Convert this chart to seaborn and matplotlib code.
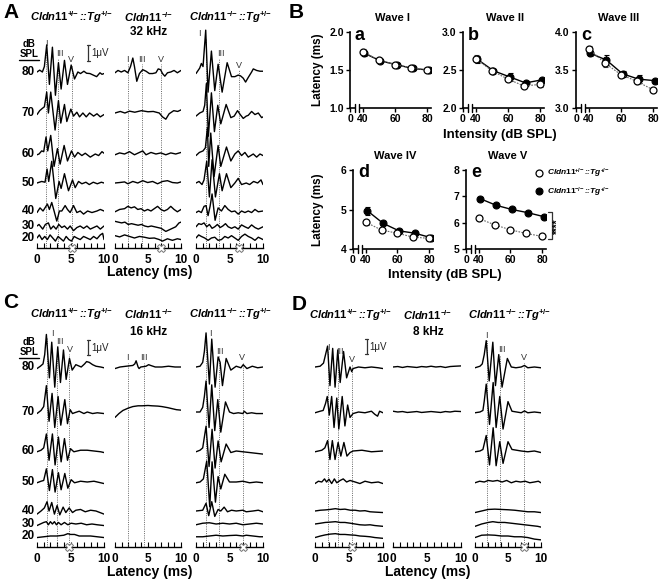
import numpy as np
import pandas as pd
import matplotlib
matplotlib.use("Agg")
import matplotlib.pyplot as plt
import seaborn as sns
from matplotlib.lines import Line2D
from matplotlib.ticker import MultipleLocator

# ---------------- data ----------------
LEVELS = [80, 70, 60, 50, 40, 30, 20]
GENO_HET = r"$\mathit{Cldn11}^{+\!/\!-}$::$\mathit{Tg}^{+\!/\!-}$"
GENO_KO = r"$\mathit{Cldn11}^{-\!/\!-}$"
GENO_RES = r"$\mathit{Cldn11}^{-\!/\!-}$::$\mathit{Tg}^{+\!/\!-}$"
FREQS = ["32 kHz", "16 kHz", "8 kHz"]

# ABR traces (time ms, amplitude uV), 32 kHz
A_HET = {
    80: [(0,0),(0.4,0.12),(0.8,0.0),(1.1,0.35),(1.45,1.75),(1.85,-0.8),(2.3,1.6),(2.75,-1.5),(3.2,0.6),(3.6,-1.1),(4.1,0.75),(4.55,-0.8),(5.1,0.45),(5.6,-0.45),(6.1,0.0),(6.5,-0.1),(7.0,0.05),(7.4,-0.08),(7.9,-0.1),(8.4,-0.2),(8.9,-0.3),(9.4,-0.05),(9.7,-0.15),(10,-0.1)],
    70: [(0,-0.1),(0.4,0.15),(0.8,0.3),(1.1,0.4),(1.45,1.35),(1.7,0.0),(2.05,1.35),(2.7,-1.1),(3.2,0.8),(3.55,-0.65),(4.1,0.55),(4.45,-0.55),(5.05,0.25),(5.45,-0.2),(5.95,0.05),(6.35,-0.25),(6.85,0.0),(7.35,-0.25),(7.85,0.0),(8.45,-0.2),(8.95,-0.05),(9.45,-0.25),(10,-0.1)],
    60: [(0,-0.05),(0.3,0.0),(0.7,0.2),(1.0,0.15),(1.35,1.1),(1.6,0.2),(2.05,1.2),(2.55,-0.8),(3.05,0.35),(3.45,-0.65),(4.05,0.55),(4.55,-0.45),(5.15,0.2),(5.6,-0.2),(6.1,0.1),(6.7,-0.1),(7.2,0.05),(7.95,-0.2),(8.7,0.0),(9.2,-0.1),(9.7,0.15),(10,0.05)],
    50: [(0,0),(0.7,0.1),(1.2,0.05),(1.5,0.9),(1.75,0.1),(2.2,1.4),(2.8,-1.0),(3.3,0.1),(3.6,-0.35),(4.1,0.6),(4.7,-0.5),(5.3,0.2),(5.7,-0.3),(6.2,0.1),(6.7,-0.05),(7.3,0.05),(7.8,-0.1),(8.4,0.05),(9.0,-0.05),(9.6,0.05),(10,0.0)],
    40: [(0,-0.1),(0.45,0.2),(0.9,0.0),(1.55,0.45),(1.85,0.1),(2.2,0.55),(2.55,0.0),(2.95,-0.65),(3.35,0.0),(3.7,0.0),(4.2,0.35),(4.55,0.1),(4.95,-0.1),(5.45,0.35),(5.95,-0.1),(6.45,0.0),(6.95,-0.2),(7.55,0.0),(8.2,-0.1),(8.95,0.0),(9.45,0.1),(10,0.0)],
    30: [(0,0),(0.3,0.1),(0.85,-0.2),(1.25,0.1),(1.7,0.2),(2.05,-0.2),(2.45,0.0),(2.85,-0.2),(3.25,0.1),(3.7,-0.1),(4.1,0.0),(4.55,-0.2),(4.95,0.0),(5.45,-0.3),(5.95,-0.1),(6.45,0.0),(6.95,-0.15),(7.45,0.0),(7.95,-0.2),(8.45,-0.1),(8.95,0.0),(9.45,-0.2),(10,0.0)],
    20: [(0,0),(0.35,0.2),(0.75,-0.1),(1.15,0.1),(1.55,-0.1),(1.95,0.2),(2.35,0.0),(2.75,-0.2),(3.15,0.1),(3.55,-0.05),(3.95,-0.2),(4.35,0.1),(4.75,-0.1),(5.15,-0.2),(5.55,0.1),(5.95,0.0),(6.45,-0.1),(6.95,0.1),(7.45,0.0),(7.95,-0.1),(8.45,0.1),(8.95,-0.05),(9.45,0.2),(9.8,0.3),(10,-0.1)],
}
A_KO = {
    80: [(0,-0.05),(0.45,0.1),(0.95,0.0),(1.45,0.1),(1.95,-0.05),(2.35,0.35),(2.7,0.9),(2.95,0.35),(3.3,-0.6),(3.7,-0.1),(4.2,0.15),(4.7,0.05),(5.2,-0.1),(5.7,-0.1),(6.2,-0.05),(6.55,0.2),(6.9,0.15),(7.2,-0.1),(7.55,-0.27),(7.95,-0.05),(8.45,0.0),(8.95,0.1),(9.45,-0.05),(10,0.1)],
    70: [(0,0),(0.8,0.1),(1.5,0.0),(2.2,0.12),(3.0,0.05),(4.0,0.15),(5.0,0.08),(5.8,0.1),(6.7,0.0),(7.2,-0.25),(7.7,-0.4),(8.2,-0.05),(8.9,0.15),(9.5,0.1),(10,0.2)],
    60: [(0,-0.05),(0.7,0.07),(1.45,0.0),(2.2,0.15),(2.95,-0.05),(3.7,0.1),(4.2,0.2),(4.7,-0.05),(5.45,0.1),(6.2,0.0),(6.95,0.07),(7.7,-0.05),(8.45,0.07),(9.2,0.0),(10,0.1)],
    50: [(0,0),(0.7,0.03),(1.45,0.07),(1.95,-0.05),(2.7,0.1),(3.45,0.0),(4.2,0.15),(4.95,0.03),(5.7,0.1),(6.45,-0.05),(7.2,0.1),(7.95,0.15),(8.7,0.03),(9.45,0.0),(10,0.07)],
    40: [(0,-0.05),(0.7,0.1),(1.45,0.15),(1.95,0.3),(2.45,0.2),(2.95,0.27),(3.45,0.1),(3.95,0.15),(4.45,0.0),(4.95,0.1),(5.45,0.0),(5.95,0.15),(6.45,0.3),(6.95,0.1),(7.45,0.0),(7.95,0.1),(8.45,0.3),(8.95,0.1),(9.45,-0.05),(10,0.1)],
    30: [(0,0.3),(0.5,0.25),(1.0,0.2),(1.5,0.25),(2.0,0.1),(2.5,0.15),(3.0,0.1),(3.5,0.05),(4.0,0.1),(4.5,0.0),(5.0,-0.05),(5.5,0.0),(6.0,-0.05),(6.5,-0.1),(7.0,-0.15),(7.7,-0.35),(8.2,-0.25),(8.7,-0.15),(9.2,-0.05),(9.7,0.2),(10,0.25)],
    20: [(0,0.15),(0.7,0.07),(1.45,0.2),(2.2,0.1),(2.95,0.0),(3.7,0.1),(4.45,0.05),(5.2,-0.02),(5.95,0.0),(6.7,-0.1),(7.2,-0.2),(7.95,-0.05),(8.7,-0.15),(9.45,-0.05),(10,-0.1)],
}
A_RES = {
    80: [(0,-0.1),(0.55,0.25),(0.8,0.55),(1.05,0.35),(1.45,2.7),(1.8,-1.3),(2.3,1.35),(2.8,-1.2),(3.3,0.5),(3.9,-1.3),(4.65,0.6),(5.3,-0.3),(5.8,-0.3),(6.3,-0.2),(6.65,-0.25),(7.05,-0.4),(7.4,-0.65),(7.8,-0.35),(8.3,0.0),(8.55,0.2),(9.05,0.1),(9.55,0.05),(10,0.05)],
    70: [(0,-0.2),(0.55,0.0),(1.05,0.1),(1.3,0.5),(1.55,1.9),(1.85,-1.5),(2.3,1.3),(2.75,-1.2),(3.25,0.5),(3.7,-0.7),(4.5,0.55),(5.2,-0.3),(5.7,-0.2),(6.2,0.15),(6.6,-0.1),(7.05,-0.35),(7.5,-0.2),(7.8,-0.15),(8.3,0.1),(8.8,-0.1),(9.3,0.0),(9.8,-0.3),(10,-0.25)],
    60: [(0,-0.1),(0.5,0.1),(1.05,0.2),(1.4,0.4),(1.7,1.7),(1.9,-0.8),(2.2,1.35),(2.7,-1.45),(3.3,0.55),(3.7,-0.8),(4.55,0.45),(5.2,-0.45),(5.8,0.0),(6.3,0.2),(6.8,-0.1),(7.3,0.1),(7.8,-0.2),(8.55,0.0),(9.05,-0.2),(9.55,0.0),(10,-0.1)],
    50: [(0,0),(0.45,0.1),(0.9,-0.1),(1.2,0.2),(1.6,1.4),(2.0,-0.9),(2.4,1.5),(2.9,-0.9),(3.5,0.6),(3.9,-0.5),(4.55,0.6),(5.2,-0.3),(5.8,0.0),(6.3,0.3),(6.8,-0.1),(7.5,0.0),(8.0,-0.1),(8.6,0.1),(9.2,0.0),(9.7,0.2),(10,-0.1)],
    40: [(0,-0.1),(0.4,0.0),(0.8,-0.1),(1.2,0.3),(1.5,0.35),(1.8,-0.3),(2.1,0.3),(2.4,1.1),(2.85,-0.6),(3.3,0.2),(3.8,0.0),(4.3,0.35),(4.8,0.1),(5.3,-0.05),(5.8,0.0),(6.3,-0.2),(6.8,0.0),(7.3,-0.1),(7.8,0.0),(8.3,-0.1),(8.8,0.1),(9.3,-0.05),(10,0.0)],
    30: [(0,-0.05),(0.4,0.15),(0.8,0.1),(1.2,0.2),(1.6,-0.05),(2.0,0.1),(2.4,-0.15),(2.8,-0.05),(3.2,0.1),(3.6,-0.1),(4.0,0.0),(4.4,0.15),(4.8,-0.05),(5.3,-0.15),(5.8,-0.05),(6.3,-0.2),(6.8,0.07),(7.3,-0.05),(7.8,-0.15),(8.3,0.07),(8.8,-0.1),(9.3,-0.2),(10,-0.05)],
    20: [(0,0.0),(0.4,0.2),(0.8,0.1),(1.3,0.0),(1.8,-0.15),(2.3,0.0),(2.8,0.05),(3.3,-0.15),(3.8,-0.1),(4.3,0.1),(4.8,0.0),(5.3,0.15),(5.8,0.0),(6.3,-0.15),(6.8,0.1),(7.3,0.25),(7.8,0.1),(8.3,0.0),(8.8,-0.15),(9.3,0.05),(10,-0.1)],
}
# 16 kHz
C_HET = {
    80: [(0,-0.1),(0.5,0.05),(0.9,0.2),(1.15,0.8),(1.4,2.1),(1.85,-0.7),(2.2,1.6),(2.65,-1.3),(3.1,1.3),(3.5,-1.0),(3.95,1.1),(4.35,-0.8),(4.85,0.55),(5.25,-0.2),(5.8,0.15),(6.6,0.0),(7.1,0.2),(7.4,0.35),(7.8,0.3),(8.3,0.15),(8.8,0.05),(9.5,0.0),(10,-0.05)],
    70: [(0,-0.1),(0.6,0.1),(1.0,0.35),(1.4,1.7),(1.8,-0.6),(2.25,1.2),(2.65,-1.0),(3.15,1.0),(3.55,-0.85),(4.15,0.8),(4.55,-0.75),(4.95,0.15),(5.3,-0.1),(5.6,-0.05),(6.3,0.05),(7.0,-0.1),(7.5,0.0),(8.3,-0.1),(9.0,-0.05),(10,-0.1)],
    60: [(0,-0.05),(0.6,0.05),(1.0,0.2),(1.4,1.1),(1.8,-0.6),(2.3,1.1),(2.7,-0.9),(3.2,0.9),(3.6,-0.7),(4.1,0.8),(4.55,-0.6),(5.0,0.15),(5.5,-0.05),(6.5,0.05),(7.5,0.05),(8.5,0.0),(9.5,-0.05),(10,-0.1)],
    50: [(0,-0.05),(0.6,0.05),(1.0,0.1),(1.4,0.85),(1.85,-0.55),(2.3,0.8),(2.7,-0.65),(3.2,0.6),(3.6,-0.5),(4.15,0.55),(4.6,-0.4),(5.1,0.15),(5.6,-0.05),(6.5,0.05),(7.5,0.0),(8.5,0.05),(9.5,-0.05),(10,-0.1)],
    40: [(0,-0.2),(0.6,0.0),(1.1,0.2),(1.5,0.6),(1.8,0.0),(2.2,0.55),(2.6,-0.2),(3.0,0.35),(3.4,-0.25),(3.9,0.25),(4.3,-0.1),(4.8,0.2),(5.3,-0.1),(5.8,0.05),(6.5,0.1),(7.2,-0.05),(8.0,0.05),(8.8,0.0),(9.4,-0.1),(10,-0.2)],
    30: [(0,-0.1),(0.5,0.0),(1.0,0.1),(1.4,0.15),(1.7,-0.05),(2.0,0.15),(2.3,0.0),(2.6,0.15),(2.9,-0.05),(3.2,0.1),(3.6,-0.05),(4.1,0.1),(4.6,-0.05),(5.1,0.05),(5.8,0.0),(6.6,0.05),(7.4,-0.05),(8.2,0.0),(9.0,-0.05),(10,-0.1)],
    20: [(0,-0.1),(1.0,-0.05),(2.0,0.0),(3.0,0.0),(4.0,0.05),(4.6,0.15),(5.0,0.1),(5.6,0.1),(6.3,0.0),(7.2,0.0),(8.0,0.0),(9.0,-0.05),(10,-0.1)],
}
C_KO = {
    80: [(0,-0.1),(0.75,0.0),(1.7,0.05),(2.7,0.1),(3.0,0.2),(3.2,0.4),(3.5,0.0),(3.65,-0.1),(3.9,0.0),(4.7,0.05),(5.1,0.15),(5.4,0.1),(6.1,0.0),(7.1,0.0),(8.1,0.05),(9.1,0.0),(10,0.0)],
    70: [(0,-0.35),(0.6,-0.1),(1.2,0.1),(2.0,0.25),(2.7,0.35),(3.5,0.4),(4.1,0.4),(5.0,0.42),(5.6,0.4),(6.5,0.38),(7.1,0.35),(8.0,0.28),(8.6,0.22),(9.3,0.15),(10,0.12)],
}
C_RES = {
    80: [(0,0),(0.6,0.05),(1.0,0.3),(1.25,1.0),(1.5,2.2),(2.0,-1.1),(2.35,1.8),(2.85,-1.3),(3.3,0.65),(3.6,0.3),(3.95,-1.2),(4.5,0.55),(5.2,-0.2),(6.0,0.05),(6.7,-0.05),(7.05,0.15),(7.6,-0.1),(8.4,0.05),(9.2,-0.05),(10,0.0)],
    70: [(0,0),(0.6,0.0),(1.0,0.3),(1.25,1.0),(1.5,2.0),(1.95,-1.0),(2.35,1.75),(2.8,-1.2),(3.25,0.8),(3.7,-1.3),(4.4,0.65),(5.0,0.0),(5.6,-0.1),(6.3,-0.05),(7.0,-0.1),(7.2,0.05),(7.6,-0.1),(8.3,-0.05),(9.0,-0.1),(10,-0.1)],
    60: [(0,-0.05),(0.6,0.05),(1.0,0.2),(1.5,1.6),(1.95,-1.0),(2.4,1.4),(2.85,-1.1),(3.3,0.65),(3.75,-0.7),(4.5,0.45),(5.2,-0.1),(6.0,0.0),(7.0,-0.05),(8.0,-0.1),(9.0,-0.15),(10,-0.2)],
    50: [(0,-0.05),(0.6,0.0),(1.1,0.2),(1.6,1.35),(2.05,-1.6),(2.4,1.3),(2.9,-1.3),(3.3,0.35),(3.7,-0.45),(4.3,0.5),(5.0,0.0),(6.0,0.0),(7.0,0.05),(8.0,-0.05),(9.0,0.0),(10,-0.05)],
    40: [(0,0),(1.0,0.05),(1.5,0.5),(1.9,-0.3),(2.35,0.6),(2.8,-0.35),(3.3,0.1),(3.7,0.0),(4.2,0.25),(4.7,-0.05),(5.3,0.05),(6.0,0.0),(7.0,0.05),(7.5,-0.05),(8.5,0.0),(9.3,0.05),(10,-0.05)],
    30: [(0,-0.05),(1.0,0.05),(2.0,0.08),(3.0,0.0),(4.0,0.05),(5.0,0.0),(6.0,0.05),(7.0,-0.05),(8.0,0.0),(9.0,0.05),(10,0.0)],
    20: [(0,-0.05),(1.0,-0.05),(2.0,0.0),(3.0,0.05),(4.0,0.0),(5.0,0.03),(6.0,0.05),(7.0,0.0),(7.5,0.05),(8.5,0.0),(9.5,-0.05),(10,-0.05)],
}
# 8 kHz
D_HET = {
    80: [(0,0.0),(0.75,0.05),(1.25,0.25),(1.55,0.8),(1.85,1.35),(2.2,-1.2),(2.6,1.2),(2.95,-1.3),(3.35,1.1),(3.7,-1.0),(4.2,1.0),(4.65,-0.7),(5.15,0.0),(5.4,-0.3),(5.6,-0.1),(6.4,0.0),(7.35,-0.05),(8.3,0.0),(9.3,-0.05),(10,-0.1)],
    70: [(0,-0.05),(0.75,0.05),(1.2,0.1),(1.55,0.55),(1.8,1.0),(2.1,-0.2),(2.45,1.0),(2.8,-1.0),(3.2,0.9),(3.5,-1.1),(4.0,1.0),(4.4,-0.9),(4.8,0.45),(5.15,-0.35),(5.6,-0.1),(6.4,0.0),(7.35,-0.05),(8.3,0.05),(8.8,-0.15),(9.2,-0.27),(9.5,0.05),(10,-0.05)],
    60: [(0,-0.05),(1.0,0.05),(1.45,0.2),(1.85,0.67),(2.2,-0.55),(2.55,0.67),(2.95,-0.55),(3.4,0.55),(3.8,-0.33),(4.25,0.55),(4.7,-0.33),(5.15,-0.1),(5.6,0.0),(6.9,0.05),(8.3,-0.05),(10,0.0)],
    50: [(0,-0.1),(0.5,0.05),(1.0,0.0),(1.4,0.2),(1.7,0.0),(2.05,0.18),(2.45,-0.1),(2.85,0.2),(3.2,-0.05),(3.7,0.1),(4.15,0.2),(4.65,0.0),(5.15,0.1),(5.9,0.0),(6.6,-0.1),(7.35,0.05),(8.3,-0.05),(9.3,0.0),(10,-0.1)],
    40: [(0,0.0),(0.8,0.05),(1.5,0.07),(2.2,0.1),(3.0,0.15),(3.7,0.1),(4.4,0.12),(5.2,0.05),(5.9,0.05),(6.6,0.0),(7.35,0.02),(8.1,-0.05),(8.8,-0.07),(10,-0.1)],
    30: [(0,0.0),(0.8,0.05),(1.5,0.1),(2.2,0.12),(3.0,0.15),(3.7,0.1),(4.4,0.1),(5.2,0.05),(5.9,0.0),(6.6,-0.05),(7.35,-0.07),(8.1,-0.05),(8.8,-0.1),(10,-0.15)],
    20: [(0,-0.1),(0.8,0.0),(1.5,0.07),(2.2,0.12),(3.0,0.15),(3.7,0.1),(4.4,0.1),(5.2,0.07),(5.9,0.05),(6.6,0.0),(7.35,-0.02),(8.1,-0.05),(8.8,-0.1),(10,-0.15)],
}
D_KO = {
    80: [(0,0.0),(0.7,0.03),(1.4,-0.03),(2.1,0.03),(2.8,0.0),(3.5,-0.03),(4.2,0.03),(4.9,0.0),(5.6,0.05),(6.3,0.0),(7.0,0.03),(7.7,-0.03),(8.4,0.03),(9.1,0.05),(10,0.07)],
    70: [(0,0.05),(0.7,0.0),(1.4,0.03),(2.1,-0.03),(2.8,0.0),(3.5,0.03),(4.2,-0.03),(4.9,0.0),(5.6,0.03),(6.3,0.0),(7.0,-0.03),(7.7,0.03),(8.4,0.0),(9.1,0.05),(10,0.03)],
}
D_RES = {
    80: [(0,-0.05),(0.75,0.05),(1.1,0.2),(1.4,0.8),(1.7,1.7),(2.15,-0.9),(2.7,1.6),(3.1,-1.2),(3.6,0.8),(4.1,-1.3),(4.9,0.55),(5.5,0.0),(6.2,-0.05),(7.0,0.0),(7.5,0.1),(8.0,-0.05),(9.0,0.0),(10,-0.05)],
    70: [(0,-0.05),(0.75,0.0),(1.2,0.1),(1.4,0.7),(1.7,1.8),(2.2,-0.8),(2.75,1.9),(3.2,-1.0),(3.75,1.0),(4.25,-1.1),(5.0,0.67),(5.6,0.05),(6.3,0.0),(7.0,-0.05),(7.5,0.07),(8.0,-0.05),(9.0,0.0),(10,-0.05)],
    60: [(0,-0.05),(0.75,0.0),(1.2,0.1),(1.7,1.0),(2.2,-0.9),(2.75,1.5),(3.2,-0.95),(3.75,0.6),(4.25,-0.8),(5.0,0.6),(5.6,0.1),(6.3,0.05),(7.0,0.0),(8.0,-0.05),(9.0,0.0),(10,-0.1)],
    50: [(0,-0.05),(0.7,0.05),(1.4,0.0),(2.0,0.1),(2.7,0.05),(3.4,0.1),(4.1,0.0),(4.8,0.1),(5.5,-0.05),(6.2,0.05),(6.9,0.0),(7.6,0.05),(8.3,-0.05),(9.0,0.0),(9.6,0.05),(10,-0.05)],
    40: [(0,-0.1),(1.0,0.0),(2.0,0.1),(3.0,0.12),(4.0,0.1),(5.0,0.08),(6.0,0.05),(7.0,0.0),(8.0,-0.05),(9.0,-0.05),(10,-0.1)],
    30: [(0,-0.15),(1.0,0.0),(2.0,0.1),(2.7,0.15),(3.5,0.1),(4.5,0.1),(5.5,0.05),(6.5,0.0),(7.5,-0.05),(8.5,-0.1),(9.5,-0.15),(10,-0.2)],
    20: [(0,-0.1),(1.0,0.05),(2.0,0.07),(3.0,0.05),(4.0,0.0),(5.0,0.0),(6.0,-0.05),(7.0,-0.05),(8.0,-0.1),(9.0,-0.2),(10,-0.25)],
}
# peak latencies (ms) of waves I, III, V per column
A_LAT = [(1.35, 3.1, 5.2), (1.92, 4.04, 6.97), (1.45, 3.4, 6.45)]
C_LAT = [(1.42, 3.04, 4.85), (1.92, 4.44, None), (1.47, 3.38, 7.0)]
D_LAT = [(1.86, 3.33, 5.4), None, (1.77, 3.79, 7.47)]
WAVE_NAMES = ["I", "III", "V"]

# panel B: latency vs intensity (mean, SEM)
INTENSITY = [40, 50, 60, 70, 80]
W1_HET = [1.74, 1.63, 1.57, 1.53, 1.50]; W1_HET_E = [0.04, 0.02, 0.02, 0.02, 0.02]
W1_RES = [1.72, 1.62, 1.57, 1.52, 1.50]; W1_RES_E = [0.03, 0.02, 0.02, 0.02, 0.02]
W2_HET = [2.65, 2.49, 2.38, 2.29, 2.31]; W2_HET_E = [0.05, 0.02, 0.03, 0.02, 0.03]
W2_RES = [2.64, 2.49, 2.41, 2.33, 2.37]; W2_RES_E = [0.05, 0.02, 0.05, 0.02, 0.03]
W3_HET = [3.78, 3.59, 3.44, 3.35, 3.24]; W3_HET_E = [0.03, 0.05, 0.03, 0.03, 0.02]
W3_RES = [3.72, 3.63, 3.45, 3.38, 3.36]; W3_RES_E = [0.03, 0.07, 0.04, 0.05, 0.02]
W4_HET = [4.68, 4.48, 4.40, 4.30, 4.27]; W4_HET_E = [0.06, 0.05, 0.04, 0.04, 0.03]
W4_RES = [4.97, 4.65, 4.46, 4.40, 4.29]; W4_RES_E = [0.10, 0.05, 0.04, 0.04, 0.03]
W5_HET = [6.16, 5.92, 5.73, 5.59, 5.48]; W5_HET_E = [0.05, 0.04, 0.03, 0.03, 0.03]
W5_RES = [6.91, 6.66, 6.50, 6.38, 6.23]; W5_RES_E = [0.08, 0.05, 0.05, 0.04, 0.04]

# ---------------- style ----------------
sns.set_theme(style="ticks")
plt.rcParams.update({
    "font.family": ["Liberation Sans", "DejaVu Sans"],
    "font.weight": "bold",
    "mathtext.fontset": "custom",
    "mathtext.it": "Liberation Sans:style=italic:weight=bold",
    "mathtext.rm": "Liberation Sans:weight=bold",
    "mathtext.bf": "Liberation Sans:weight=bold",
    "axes.linewidth": 1.0,
    "axes.edgecolor": "black",
    "xtick.color": "black",
    "ytick.color": "black",
    "text.color": "black",
    "lines.solid_joinstyle": "round",
})

W, H = 660, 580
fig = plt.figure(figsize=(W / 100, H / 100), dpi=100)
fig.patch.set_facecolor("white")
PXUV = 15.5  # pixels per microvolt


def fx(x):
    return x / W


def fy(y):
    return 1 - y / H


def ftext(x, y, s, **kw):
    kw.setdefault("ha", "center")
    kw.setdefault("va", "center")
    return fig.text(fx(x), fy(y), s, **kw)


def draw_column(x0, x1, axis_px, top_px, base_px, traces, lat, lbl):
    ax = fig.add_axes([fx(x0), fy(axis_px), (x1 - x0) / W, (axis_px - top_px) / H])
    ax.patch.set_alpha(0)
    ax.set_xlim(0, 10)
    ax.set_ylim(0, (axis_px - top_px) / PXUV)

    def to_y(ypx):
        return (axis_px - ypx) / PXUV

    for lvl, b in zip(LEVELS, base_px):
        tr = traces.get(lvl)
        if tr is None:
            continue
        t = np.array([p[0] for p in tr])
        v = np.array([p[1] for p in tr])
        sns.lineplot(x=t, y=v + to_y(b), ax=ax, color="black", lw=1.0,
                     sort=False, estimator=None)
    if lat is not None:
        for k in range(3):
            if lat[k] is None:
                continue
            lx, ly = lbl[k]
            ax.vlines(lat[k], 0, to_y(ly + 5), colors="#666666", lw=0.7,
                      linestyles=(0, (1, 1.3)), zorder=1)
            ax.text(lx, to_y(ly), WAVE_NAMES[k], ha="center", va="center",
                    fontsize=6.5, fontweight="normal", color="#333333")
        if lat[2] is not None:
            ax.plot([lat[2]], [0], marker="X", ms=5.5, mfc="white", mec="#777777",
                    mew=0.7, clip_on=False, zorder=6, ls="none")
    for s in ["left", "top", "right"]:
        ax.spines[s].set_visible(False)
    ax.set_yticks([])
    ax.set_xticks([0, 5, 10])
    ax.set_xticklabels(["0", "5", "10"])
    ax.xaxis.set_minor_locator(MultipleLocator(1))
    ax.tick_params(axis="x", which="both", direction="in", length=3.5, width=0.8,
                   pad=4, labelsize=8.5)
    ax.set_xlabel("")
    ax.set_ylabel("")
    return ax, to_y


def scale_bar(ax, to_y, x_ms, ytop_px):
    y1 = to_y(ytop_px)
    ax.plot([x_ms, x_ms], [y1, y1 - 1.0], color="#333333", lw=0.9)
    ax.plot([x_ms - 0.2, x_ms + 0.2], [y1, y1], color="#333333", lw=0.9)
    ax.plot([x_ms - 0.2, x_ms + 0.2], [y1 - 1.0, y1 - 1.0], color="#333333", lw=0.9)
    ax.text(x_ms + 0.45, y1 - 0.5, "1μV", ha="left", va="center", fontsize=7,
            fontweight="normal", color="#222222")


def db_labels(base_px, db_y):
    ftext(29, db_y, "dB", fontsize=7)
    ftext(29, db_y + 10, "SPL", fontsize=7)
    fig.add_artist(Line2D([fx(19), fx(39)], [fy(db_y + 16), fy(db_y + 16)],
                          color="black", lw=1.0))
    for lvl, b in zip(LEVELS, base_px):
        ftext(35, b, str(lvl), ha="right", fontsize=8.5)


# ---------------- panels A, C, D ----------------
A_BASE = [72, 113, 154, 183, 211, 226, 238]
CD_BASE = [367, 412, 451, 482, 511, 524, 536]
AC_COLS = [(37, 104), (115, 181), (196, 263)]
D_COLS = [(315, 383), (393, 461), (475, 541)]

A_LBL = [[(1.4, 43), (3.35, 53), (5.0, 60)], [(1.92, 59), (4.1, 59), (6.97, 59)],
         [(0.5, 33), (3.65, 53), (6.45, 65)]]
C_LBL = [[(2.3, 333), (3.4, 342), (4.95, 349)], [(1.95, 358), (4.4, 358), None],
         [(2.1, 333), (3.6, 351), (6.9, 358)]]
D_LBL = [[(1.9, 347), (3.7, 352), (5.4, 359)], None,
         [(1.7, 335), (4.0, 350), (7.45, 358)]]

TITLE_FS = 8

# Panel A
for i, (tr, (x0, x1)) in enumerate(zip([A_HET, A_KO, A_RES], AC_COLS)):
    ax, ty = draw_column(x0, x1, 248, 28, A_BASE, tr, A_LAT[i], A_LBL[i])
    if i == 0:
        scale_bar(ax, ty, 7.65, 45)
db_labels(A_BASE, 44)
for (x0, x1), g in zip(AC_COLS, [GENO_HET, GENO_KO, GENO_RES]):
    ftext((x0 + x1) / 2 + 1, 17, g, fontsize=TITLE_FS, style="italic")
ftext(149, 32, FREQS[0], fontsize=8.5)
ftext(150, 272, "Latency (ms)", fontsize=10)
ftext(11, 13, "A", fontsize=15)

# Panel C
for i, (tr, (x0, x1)) in enumerate(zip([C_HET, C_KO, C_RES], AC_COLS)):
    ax, ty = draw_column(x0, x1, 547, 318, CD_BASE, tr, C_LAT[i], C_LBL[i])
    if i == 0:
        scale_bar(ax, ty, 7.65, 340)
db_labels(CD_BASE, 342)
for (x0, x1), g in zip(AC_COLS, [GENO_HET, GENO_KO, GENO_RES]):
    ftext((x0 + x1) / 2 + 1, 314, g, fontsize=TITLE_FS, style="italic")
ftext(149, 332, FREQS[1], fontsize=8.5)
ftext(150, 572, "Latency (ms)", fontsize=10)
ftext(11, 303, "C", fontsize=15)

# Panel D
for i, (tr, (x0, x1)) in enumerate(zip([D_HET, D_KO, D_RES], D_COLS)):
    ax, ty = draw_column(x0, x1, 547, 318, CD_BASE, tr, D_LAT[i], D_LBL[i])
    if i == 0:
        scale_bar(ax, ty, 7.6, 339)
for (x0, x1), g in zip(D_COLS, [GENO_HET, GENO_KO, GENO_RES]):
    ftext((x0 + x1) / 2 + 1, 315, g, fontsize=TITLE_FS, style="italic")
ftext(428, 332, FREQS[2], fontsize=8.5)
ftext(428, 572, "Latency (ms)", fontsize=10)
ftext(299, 304, "D", fontsize=15)


# ---------------- panel B ----------------
def wave_panel(l, t, r, b, ylim, yticks, yfmt, het, het_e, res, res_e, title, letter):
    ax = fig.add_axes([fx(l), fy(b), (r - l) / W, (b - t) / H])
    ax.patch.set_alpha(0)
    xr = np.array(INTENSITY, dtype=float)
    ax.errorbar(xr + 1, res, yerr=res_e, fmt="none", ecolor="black", elinewidth=0.8,
                capsize=1.8, capthick=0.8, zorder=2)
    ax.errorbar(xr, het, yerr=het_e, fmt="none", ecolor="#444444", elinewidth=0.8,
                capsize=1.8, capthick=0.8, zorder=2)
    df_res = pd.DataFrame({"Intensity": xr + 1, "Latency": res})
    df_het = pd.DataFrame({"Intensity": xr, "Latency": het})
    sns.lineplot(data=df_res, x="Intensity", y="Latency", ax=ax, color="black", lw=1.0,
                 marker="o", ms=5, mfc="black", mec="black", mew=0.8, zorder=3)
    sns.lineplot(data=df_het, x="Intensity", y="Latency", ax=ax, color="#666666", lw=0.8,
                 ls=(0, (1.5, 1.2)), marker="o", ms=5, mfc="white", mec="black",
                 mew=0.9, zorder=4)
    ax.set_xlim(32, 82.5)
    ax.set_ylim(*ylim)
    ax.set_xlabel("")
    ax.set_ylabel("")
    ax.set_xticks([32, 40, 60, 80])
    ax.set_xticklabels(["0", "40", "60", "80"])
    ax.set_yticks(yticks)
    ax.set_yticklabels([yfmt.format(v) for v in yticks])
    for s in ["top", "right"]:
        ax.spines[s].set_visible(False)
    for s in ["left", "bottom"]:
        ax.spines[s].set_linewidth(1.2)
    ax.tick_params(axis="both", direction="out", length=3, width=1.0, labelsize=7.5, pad=1.5)
    tr = ax.get_xaxis_transform()
    ax.plot([35.3, 37.7], [0, 0], transform=tr, color="white", lw=3, clip_on=False,
            zorder=5, solid_capstyle="butt")
    for xb in (35.3, 37.7):
        ax.plot([xb, xb], [-0.05, 0.05], transform=tr, color="black", lw=1.0,
                clip_on=False, zorder=6)
    ftext((l + r) / 2 + 2, t - 14, title, fontsize=8)
    ax.text(0.06, 1.07, letter, transform=ax.transAxes, ha="left", va="top", fontsize=13)
    return ax


R1T, R1B = 32, 108
R2T, R2B = 170, 249
wave_panel(350, R1T, 431, R1B, (1.0, 2.0), [1.0, 1.5, 2.0], "{:.1f}",
           W1_HET, W1_HET_E, W1_RES, W1_RES_E, "Wave I", "a")
wave_panel(463, R1T, 544, R1B, (2.0, 3.0), [2.0, 2.5, 3.0], "{:.1f}",
           W2_HET, W2_HET_E, W2_RES, W2_RES_E, "Wave II", "b")
wave_panel(576, R1T, 657, R1B, (3.0, 4.0), [3.0, 3.5, 4.0], "{:.1f}",
           W3_HET, W3_HET_E, W3_RES, W3_RES_E, "Wave III", "c")
wave_panel(353, R2T, 433, R2B, (4, 6), [4, 5, 6], "{:d}",
           W4_HET, W4_HET_E, W4_RES, W4_RES_E, "Wave IV", "d")
ax_e = wave_panel(466, R2T, 546, R2B, (5, 8), [5, 6, 7, 8], "{:d}",
                  W5_HET, W5_HET_E, W5_RES, W5_RES_E, "Wave V", "e")

ftext(318, 70, "Latency (ms)", rotation=90, fontsize=8.5)
ftext(318, 210, "Latency (ms)", rotation=90, fontsize=8.5)
ftext(500, 135, "Intensity (dB SPL)", fontsize=9.5)
ftext(445, 275, "Intensity (dB SPL)", fontsize=9.5)
ftext(296, 13, "B", fontsize=15)

handles = [Line2D([], [], ls="none", marker="o", ms=5, mfc="white", mec="black", mew=0.9),
           Line2D([], [], ls="none", marker="o", ms=5, mfc="black", mec="black", mew=0.8)]
fig.legend(handles, [GENO_HET, GENO_RES], loc="upper left",
           bbox_to_anchor=(fx(535), fy(167)), frameon=False,
           prop={"size": 6, "style": "italic", "weight": "bold"},
           handlelength=1.0, handletextpad=0.4, labelspacing=0.6, borderpad=0,
           borderaxespad=0)

# significance bracket
fig.add_artist(Line2D([fx(548), fx(552), fx(552), fx(548)],
                      [fy(212), fy(212), fy(239), fy(239)], color="#333333", lw=0.9))
ftext(558, 226, "****", rotation=90, fontsize=7)

fig.savefig("out.png", dpi=100, facecolor="white")
